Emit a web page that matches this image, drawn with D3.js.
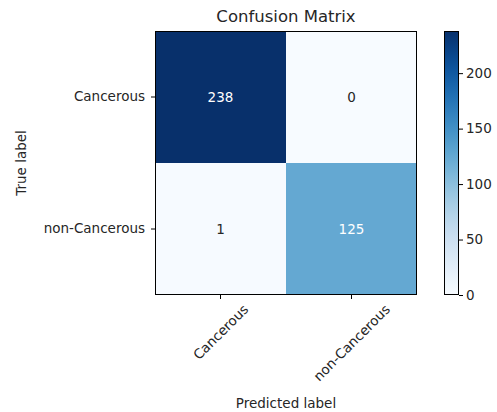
<!DOCTYPE html>
<html>
<head>
  <meta charset="utf-8">
  <title>Confusion Matrix</title>
  <script src="https://d3js.org/d3.v7.min.js"></script>
  <style>
    body { margin: 0; background: #fff; }
    text { font-family: 'DejaVu Sans', sans-serif; fill: #262626; }
    .tick-label { font-size: 13.5px; }
  </style>
</head>
<body>
  <div id="chart"></div>
  <script>
    // data
    var classes = ["Cancerous", "non-Cancerous"];
    var matrix = [
      [238, 0],
      [1, 125]
    ];
    var cbarTicks = [0, 50, 100, 150, 200];

    var W = 497, H = 412;
    var plot = {left: 155, top: 31, width: 262, height: 264};
    var cbar = {left: 444, width: 15};

    var svg = d3.select("#chart").append("svg")
      .attr("width", W).attr("height", H);

    var cells = [];
    matrix.forEach(function(row, i) {
      row.forEach(function(v, j) { cells.push({row: classes[i], col: classes[j], value: v}); });
    });
    var maxVal = d3.max(cells, function(d) { return d.value; });

    var x = d3.scaleBand().domain(classes).range([plot.left, plot.left + plot.width]);
    var y = d3.scaleBand().domain(classes).range([plot.top, plot.top + plot.height]);
    var color = d3.scaleSequential(d3.interpolateBlues).domain([0, maxVal]);

    // cells
    svg.append("g").selectAll("rect").data(cells).enter().append("rect")
      .attr("x", function(d) { return x(d.col); })
      .attr("y", function(d) { return y(d.row); })
      .attr("width", x.bandwidth())
      .attr("height", y.bandwidth())
      .attr("fill", function(d) { return color(d.value); });

    // cell values
    svg.append("g").selectAll("text").data(cells).enter().append("text")
      .attr("x", function(d) { return x(d.col) + x.bandwidth() / 2; })
      .attr("y", function(d) { return y(d.row) + y.bandwidth() / 2; })
      .attr("text-anchor", "middle")
      .attr("dominant-baseline", "central")
      .style("font-size", "13.5px")
      .style("fill", function(d) { return d.value > maxVal / 2 ? "#ffffff" : "#262626"; })
      .text(function(d) { return d.value; });

    // frame
    svg.append("rect")
      .attr("x", plot.left + 0.5).attr("y", plot.top + 0.5)
      .attr("width", plot.width - 1).attr("height", plot.height - 1)
      .attr("fill", "none").attr("stroke", "#000").attr("stroke-width", 1);

    // y axis
    var yAxis = svg.append("g")
      .attr("transform", "translate(" + plot.left + ",0)")
      .call(d3.axisLeft(y).tickSize(4).tickPadding(6));
    yAxis.select(".domain").remove();
    yAxis.selectAll("text").attr("class", "tick-label").style("font-size", "13.5px")
      .attr("fill", null).style("font-family", "'DejaVu Sans', sans-serif");
    yAxis.selectAll("line").attr("stroke", "#000");

    // x axis with rotated labels
    var xAxis = svg.append("g")
      .attr("transform", "translate(0," + (plot.top + plot.height) + ")")
      .call(d3.axisBottom(x).tickSize(4).tickFormat(""));
    xAxis.select(".domain").remove();
    xAxis.selectAll("line").attr("stroke", "#000");

    var xl = svg.append("g").selectAll("text").data(classes).enter().append("text")
      .attr("class", "tick-label")
      .attr("text-anchor", "middle")
      .attr("dominant-baseline", "central")
      .text(function(d) { return d; });
    xl.each(function(d) {
      var w = this.getComputedTextLength(), h = 13.5;
      var half = (w + h) / Math.SQRT2 / 2;
      var cx = x(d) + x.bandwidth() / 2;
      var cy = plot.top + plot.height + 7 + half;
      d3.select(this).attr("transform", "translate(" + cx + "," + cy + ") rotate(-45)");
    });

    // title and axis labels
    svg.append("text")
      .attr("x", plot.left + plot.width / 2).attr("y", plot.top - 9)
      .attr("text-anchor", "middle").style("font-size", "16.5px")
      .text("Confusion Matrix");
    svg.append("text")
      .attr("x", plot.left + plot.width / 2).attr("y", 408)
      .attr("text-anchor", "middle").style("font-size", "13.5px")
      .text("Predicted label");
    svg.append("text")
      .attr("transform", "translate(26," + (plot.top + plot.height / 2) + ") rotate(-90)")
      .attr("text-anchor", "middle").style("font-size", "13.5px")
      .text("True label");

    // colorbar
    var defs = svg.append("defs");
    var grad = defs.append("linearGradient").attr("id", "cbar")
      .attr("x1", 0).attr("y1", 1).attr("x2", 0).attr("y2", 0);
    d3.range(0, 1.0001, 0.05).forEach(function(t) {
      grad.append("stop").attr("offset", t).attr("stop-color", color(t * maxVal));
    });
    var cy = d3.scaleLinear().domain([0, maxVal]).range([plot.top + plot.height, plot.top]);
    svg.append("rect")
      .attr("x", cbar.left).attr("y", plot.top)
      .attr("width", cbar.width).attr("height", plot.height)
      .attr("fill", "url(#cbar)");
    svg.append("rect")
      .attr("x", cbar.left + 0.5).attr("y", plot.top + 0.5)
      .attr("width", cbar.width - 1).attr("height", plot.height - 1)
      .attr("fill", "none").attr("stroke", "#000");
    var cAxis = svg.append("g")
      .attr("transform", "translate(" + (cbar.left + cbar.width) + ",0)")
      .call(d3.axisRight(cy).tickValues(cbarTicks).tickSize(4).tickPadding(3));
    cAxis.select(".domain").remove();
    cAxis.selectAll("line").attr("stroke", "#000");
    cAxis.selectAll("text").attr("fill", null)
      .style("font-size", "13.5px").style("font-family", "'DejaVu Sans', sans-serif");
  </script>
</body>
</html>
